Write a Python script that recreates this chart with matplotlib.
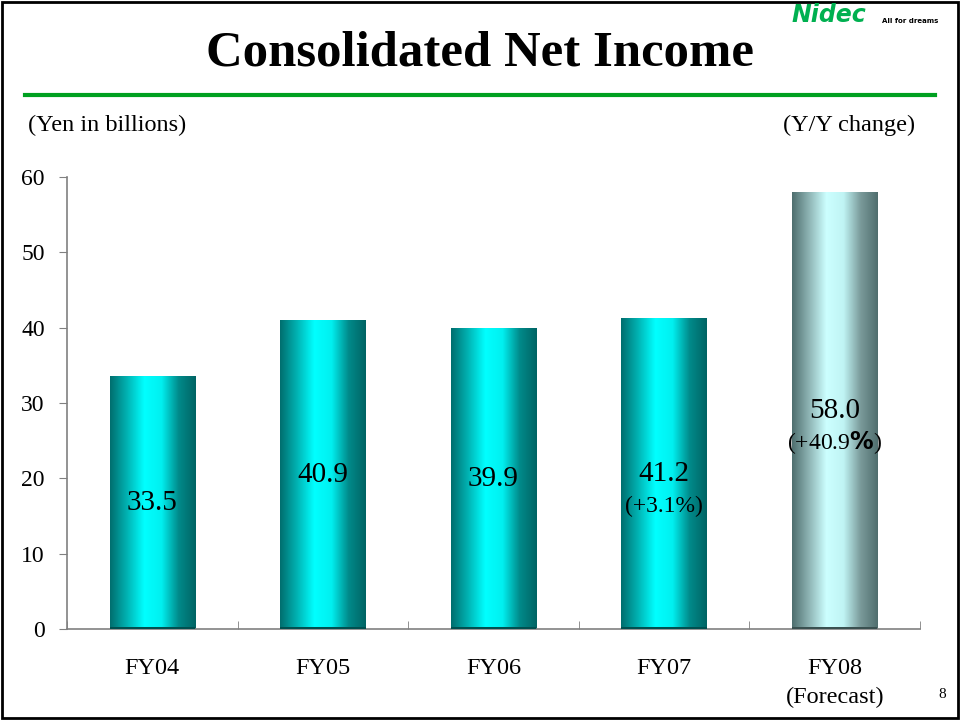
import matplotlib.pyplot as plt
import numpy as np
from matplotlib.colors import LinearSegmentedColormap
from matplotlib.patches import Rectangle

years = ["FY04", "FY05", "FY06", "FY07", "FY08\n(Forecast)"]
income = [33.5, 40.9, 39.9, 41.2, 58.0]
changes = [None, None, None, "(+3.1%)", r"(+40.9$\mathbf{\%}$)"]

plt.rcParams['font.family'] = ['Liberation Serif', 'DejaVu Serif']
plt.rcParams['mathtext.fontset'] = 'dejavusans'

fig = plt.figure(figsize=(9.6, 7.2), dpi=100)
ax = fig.add_axes([67/960, 91/720, 853/960, 452/720])

teal = LinearSegmentedColormap.from_list(
    "teal", ["#006e6e", "#00b4b4", "#00ffff", "#00f0f0", "#008a8a", "#006464"])
grey = LinearSegmentedColormap.from_list(
    "grey", ["#4e6e6e", "#8fb5b5", "#ccffff", "#c0f4f4", "#7a9a9a", "#506e6e"])

x = np.arange(len(years))
w = 0.5
grad = np.linspace(0, 1, 256).reshape(1, -1)
for i, v in enumerate(income):
    cmap = grey if i == 4 else teal
    ax.imshow(grad, cmap=cmap, aspect='auto', extent=(i - w/2, i + w/2, 0, v), zorder=2)
    ax.add_patch(Rectangle((i - w/2, 0), w, 0.3, color="#005050" if i < 4 else "#3a5050",
                           zorder=3, lw=0))

    ax.text(i, v / 2, f"{v:.1f}", ha='center', va='center', fontsize=21, zorder=4)
    if changes[i]:
        ax.text(i, v / 2 - 4.3, changes[i], ha='center', va='center', fontsize=17, zorder=4)

ax.set_xlim(-0.5, len(years) - 0.5)
ax.set_ylim(0, 60)
ax.set_yticks(range(0, 61, 10))
ax.set_xticks(x)
ax.set_xticklabels(years, fontsize=17.5, linespacing=1.45)
ax.set_xticks(np.arange(-0.5, len(years)), minor=True)
ax.tick_params(axis='x', which='major', length=0, pad=21)
ax.tick_params(axis='x', which='minor', direction='in', length=6, color='#808080')
ax.tick_params(axis='y', direction='out', length=6, color='#808080', labelsize=17, pad=10)
for s in ['top', 'right']:
    ax.spines[s].set_visible(False)
for s in ['left', 'bottom']:
    ax.spines[s].set_color('#808080')
    ax.spines[s].set_linewidth(1.2)

fig.text(0.5, 1 - 53/720, "Consolidated Net Income", ha='center', va='center',
         fontsize=36.5, fontweight='bold')
fig.add_artist(plt.Line2D([25/960, 935/960], [1 - 95/720] * 2, color='#00a020', lw=3))
fig.text(28/960, 1 - 125/720, "(Yen in billions)", ha='left', va='center', fontsize=17.5)
fig.text(915/960, 1 - 125/720, "(Y/Y change)", ha='right', va='center', fontsize=17.5)
fig.text(942/960, 1 - 694/720, "8", ha='center', va='center', fontsize=11)

fig.text(791/960, 1 - 15/720, "Nidec", ha='left', va='center', fontsize=17,
         fontweight='heavy', style='italic', color='#00b050', family='DejaVu Sans')
fig.text(882/960, 1 - 21/720, "All for dreams", ha='left', va='center', fontsize=5,
         fontweight='bold', family='DejaVu Sans')

fig.add_artist(Rectangle((0.002, 0.003), 0.996, 0.994, transform=fig.transFigure,
                         fill=False, ec='black', lw=2))

fig.savefig("out.png", dpi=100)
